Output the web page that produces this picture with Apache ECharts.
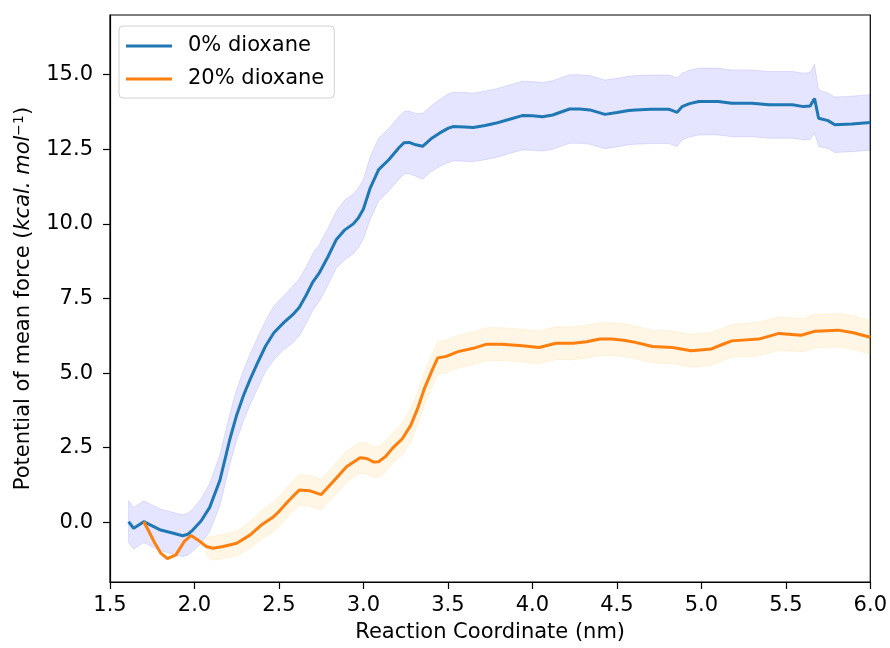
<!DOCTYPE html>
<html>
<head>
<meta charset="utf-8">
<script src="https://cdn.jsdelivr.net/npm/echarts@6/dist/echarts.min.js"></script>
<style>html,body{margin:0;padding:0;background:#fff}#c{width:890px;height:648px}</style>
</head>
<body>
<div id="c"></div>
<script>
const blueX = [1.61,1.64,1.70,1.75,1.80,1.87,1.93,1.96,1.99,2.04,2.09,2.15,2.21,2.25,2.29,2.33,2.37,2.42,2.47,2.53,2.58,2.62,2.66,2.70,2.74,2.79,2.84,2.89,2.94,2.97,3.00,3.04,3.09,3.15,3.21,3.24,3.27,3.31,3.35,3.40,3.45,3.50,3.53,3.60,3.65,3.72,3.78,3.86,3.94,4.00,4.06,4.12,4.17,4.22,4.28,4.34,4.40,4.43,4.50,4.57,4.61,4.70,4.81,4.857,4.886,4.93,4.985,5.10,5.18,5.30,5.40,5.54,5.605,5.644,5.67,5.694,5.75,5.79,5.89,6.00];
const blueY = [0.02,-0.2,0.02,-0.12,-0.26,-0.36,-0.45,-0.40,-0.26,0.05,0.5,1.4,2.8,3.6,4.25,4.8,5.3,5.9,6.35,6.7,6.95,7.2,7.6,8.05,8.37,8.9,9.48,9.8,10.0,10.2,10.5,11.2,11.82,12.15,12.55,12.72,12.73,12.65,12.6,12.85,13.04,13.2,13.26,13.25,13.23,13.3,13.37,13.5,13.63,13.62,13.59,13.65,13.75,13.85,13.85,13.82,13.72,13.67,13.73,13.8,13.82,13.84,13.84,13.74,13.93,14.03,14.1,14.1,14.04,14.04,13.99,13.99,13.93,13.95,14.2,13.54,13.46,13.32,13.35,13.4];
const blueErr = [0.7,0.7,0.7,0.7,0.7,0.7,0.7,0.7,0.7,0.75,0.8,0.85,0.85,0.85,0.85,0.85,0.85,0.85,0.9,0.9,0.95,0.95,0.95,0.95,0.95,0.95,0.95,1.0,1.0,1.0,1.0,1.05,1.05,1.05,1.05,1.05,1.05,1.05,1.1,1.1,1.12,1.15,1.15,1.15,1.15,1.15,1.15,1.15,1.15,1.15,1.15,1.15,1.15,1.15,1.15,1.15,1.15,1.15,1.15,1.15,1.15,1.15,1.15,1.15,1.12,1.12,1.12,1.12,1.12,1.12,1.12,1.12,1.12,1.12,1.15,0.95,0.93,0.93,0.93,0.93];

const orangeX = [1.70,1.73,1.76,1.80,1.84,1.89,1.94,1.98,2.02,2.07,2.11,2.17,2.25,2.33,2.40,2.46,2.50,2.56,2.62,2.68,2.75,2.82,2.90,2.98,3.02,3.06,3.09,3.13,3.17,3.23,3.28,3.32,3.36,3.41,3.44,3.49,3.56,3.65,3.73,3.82,3.94,4.04,4.14,4.24,4.32,4.40,4.47,4.54,4.61,4.71,4.83,4.94,5.06,5.12,5.18,5.34,5.46,5.59,5.67,5.81,5.90,6.00];
const orangeY = [0.02,-0.3,-0.64,-1.03,-1.22,-1.09,-0.64,-0.44,-0.59,-0.81,-0.87,-0.81,-0.7,-0.42,-0.07,0.15,0.36,0.74,1.08,1.06,0.93,1.36,1.86,2.16,2.14,2.02,2.03,2.2,2.47,2.8,3.25,3.8,4.47,5.14,5.51,5.56,5.72,5.83,5.97,5.97,5.92,5.86,6.0,6.0,6.05,6.14,6.14,6.1,6.03,5.89,5.86,5.75,5.81,5.95,6.08,6.14,6.33,6.27,6.4,6.44,6.35,6.2];
const orangeErr = [null,null,null,null,null,null,null,null,null,0.3,0.4,0.4,0.42,0.45,0.48,0.5,0.5,0.5,0.52,0.52,0.52,0.52,0.52,0.52,0.52,0.52,0.52,0.52,0.52,0.53,0.55,0.55,0.55,0.55,0.55,0.55,0.55,0.55,0.55,0.55,0.55,0.55,0.55,0.55,0.55,0.55,0.55,0.55,0.55,0.55,0.55,0.55,0.55,0.55,0.55,0.56,0.56,0.56,0.56,0.56,0.56,0.56];

const yTicks = [0, 2.5, 5, 7.5, 10, 12.5, 15];
const xTicks = [1.5, 2.0, 2.5, 3.0, 3.5, 4.0, 4.5, 5.0, 5.5, 6.0];

const FONT = 'DejaVu Sans';
const FS = 21;

function pairs(xs, ys) { return xs.map((x, i) => [x, ys[i]]); }

function bandSeries(xs, ys, es, fill, stroke) {
  return {
    type: 'custom',
    silent: true,
    z: 1,
    data: [[xs[0], ys[0]]],
    renderItem: function (params, api) {
      const up = [], lo = [];
      for (let i = 0; i < xs.length; i++) {
        if (es[i] == null) continue;
        up.push(api.coord([xs[i], ys[i] + es[i]]));
        lo.push(api.coord([xs[i], ys[i] - es[i]]));
      }
      const pts = up.concat(lo.reverse());
      return {
        type: 'polygon',
        shape: { points: pts },
        style: { fill: fill, stroke: stroke, lineWidth: 1 }
      };
    }
  };
}

const chart = echarts.init(document.getElementById('c'), null, { renderer: 'canvas' });
chart.setOption({
  animation: false,
  backgroundColor: '#ffffff',
  textStyle: { fontFamily: FONT },
  grid: { left: 110, right: 18, top: 15, bottom: 64, show: true, borderColor: '#000', borderWidth: 1.2, backgroundColor: 'transparent' },
  legend: {
    left: 119, top: 26,
    orient: 'vertical',
    data: ['0% dioxane', '20% dioxane'],
    icon: 'rect',
    itemWidth: 46, itemHeight: 3, itemGap: 11,
    padding: [9, 10, 8, 7],
    borderColor: '#d0d0d0', borderWidth: 1, borderRadius: 4,
    backgroundColor: 'rgba(255,255,255,0.8)',
    textStyle: { fontFamily: FONT, fontSize: FS, color: '#000', lineHeight: 22, padding: [0, 0, 0, 11] }
  },
  xAxis: {
    type: 'value', min: 1.5, max: 6.0, interval: 0.5,
    name: 'Reaction Coordinate (nm)', nameLocation: 'middle', nameGap: 40,
    nameTextStyle: { fontFamily: FONT, fontSize: FS, color: '#000' },
    axisLine: { show: true, onZero: false, lineStyle: { color: '#000', width: 1.2 } },
    axisTick: { show: true, length: 7, lineStyle: { color: '#000', width: 1.2 } },
    axisLabel: { fontFamily: FONT, fontSize: FS, color: '#000', margin: 13,
      formatter: v => v.toFixed(1), customValues: xTicks },
    splitLine: { show: false }
  },
  yAxis: {
    type: 'value', min: -2, max: 17,
    name: '{n|Potential of mean force (}{i|kcal. mol}{s|−1}{n|)}',
    nameLocation: 'middle', nameGap: 75, nameRotate: 90,
    nameTextStyle: {
      fontFamily: FONT, fontSize: FS, color: '#000',
      rich: {
        n: { fontFamily: FONT, fontSize: FS, color: '#000' },
        i: { fontFamily: FONT, fontSize: FS, fontStyle: 'italic', color: '#000' },
        s: { fontFamily: FONT, fontSize: 14, color: '#000', verticalAlign: 'top', padding: [0, 0, 9, 0] }
      }
    },
    axisLine: { show: true, onZero: false, lineStyle: { color: '#000', width: 1.2 } },
    axisTick: { show: true, length: 7, customValues: yTicks, lineStyle: { color: '#000', width: 1.2 } },
    axisLabel: { fontFamily: FONT, fontSize: FS, color: '#000', margin: 17,
      formatter: v => v.toFixed(1), customValues: yTicks },
    splitLine: { show: false }
  },
  series: [
    bandSeries(blueX, blueY, blueErr, 'rgba(0,0,255,0.1)', 'rgba(0,0,255,0.1)'),
    bandSeries(orangeX, orangeY, orangeErr, 'rgba(255,165,0,0.1)', 'rgba(255,165,0,0.1)'),
    {
      name: '0% dioxane', type: 'line', data: pairs(blueX, blueY),
      showSymbol: false, symbol: 'none', smooth: false, z: 3,
      lineStyle: { color: '#1f77b4', width: 3 }, itemStyle: { color: '#1f77b4' }
    },
    {
      name: '20% dioxane', type: 'line', data: pairs(orangeX, orangeY),
      showSymbol: false, symbol: 'none', smooth: false, z: 4,
      lineStyle: { color: '#ff7f0e', width: 3 }, itemStyle: { color: '#ff7f0e' }
    }
  ]
});
</script>
</body>
</html>
